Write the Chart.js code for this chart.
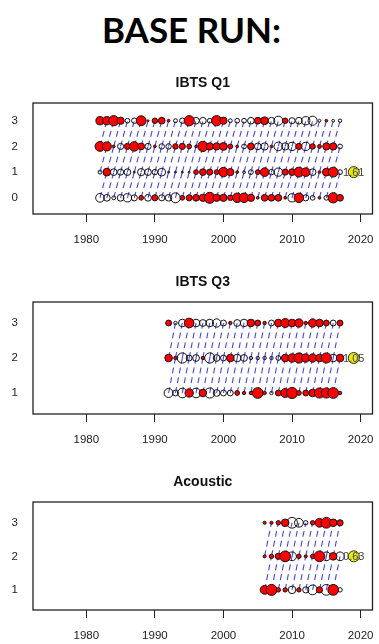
<!DOCTYPE html>
<html>
<head>
<meta charset="utf-8">
<script src="https://cdn.jsdelivr.net/npm/chart.js@4/dist/chart.umd.min.js"></script>
<style>
  html, body { margin: 0; padding: 0; background: #fff; }
  body { width: 379px; height: 644px; position: relative; overflow: hidden; }
  #heading {
    position: absolute; left: 2px; top: 12px; width: 379px;
    text-align: center; font-family: Lato, "Liberation Sans", sans-serif;
    font-weight: bold; font-size: 35px; line-height: 35px; color: #000;
  }
  canvas { position: absolute; left: 0; }
</style>
</head>
<body>
<div id="heading">BASE RUN:</div>
<canvas id="q1" width="379" height="190" style="top:66px"></canvas>
<canvas id="q3" width="379" height="190" style="top:266px"></canvas>
<canvas id="ac" width="379" height="179" style="top:465px"></canvas>
<script>
// Survey index residuals by year and age (red = positive, open = negative)
const xTicks = [1980, 1990, 2000, 2010, 2020];

// IBTS Q1, ages 0-3
const q1Years = [1982,1983,1984,1985,1986,1987,1988,1989,1990,1991,1992,1993,1994,1995,1996,1997,1998,1999,
                 2000,2001,2002,2003,2004,2005,2006,2007,2008,2009,2010,2011,2012,2013,2014,2015,2016,2017];
const q1Ages = [0, 1, 2, 3];
const q1Age0 = [-1.0,-0.6,-0.2,-0.6,-0.9,-0.5,0.3,-0.6,0.5,-0.5,-0.6,-1.3,0.3,0.5,0.6,0.7,1.61,0.7,
                0.7,0.4,1.2,1.2,0.7,0.1,0.6,0.6,0.6,0.1,-0.9,1.2,-0.5,-0.3,0.1,-0.3,1.4,0.6];
const q1Age1 = [-0.2,0.8,-0.6,-0.5,-0.6,0.05,-0.7,-0.6,-0.4,-0.8,0.05,0.05,0.05,-0.05,0.3,0.6,0.5,0.3,
                1.2,0.7,0.1,-0.1,-0.3,0.3,1.0,-0.4,-0.9,0.5,0.6,1.3,1.0,-0.6,0.1,0.8,1.3,-0.3];
const q1Age2 = [1.3,1.1,0.1,-0.5,0.5,1.2,0.6,-0.5,0.1,-0.4,-0.4,0.4,0.5,0.3,0.1,1.4,0.7,0.7,
                0.8,0.3,0.1,-0.3,0.6,-0.6,-0.7,0.1,-1.0,-0.7,-0.9,0.5,-0.9,0.4,0.2,0.7,0.7,-0.3];
const q1Age3 = [0.9,0.9,1.4,0.7,-0.3,-0.4,1.3,0.05,0.4,0.6,0.1,-0.2,-0.4,1.4,-0.6,-0.6,-0.3,1.4,
                0.7,-0.2,-0.3,-0.3,-0.6,0.6,0.8,-0.6,-1.1,0.4,-0.5,-0.6,-0.9,-1.1,-0.1,0.1,-0.1,-0.15];

// IBTS Q3, ages 1-3
const q3Years = [1992,1993,1994,1995,1996,1997,1998,1999,2000,2001,2002,2003,2004,
                 2005,2006,2007,2008,2009,2010,2011,2012,2013,2014,2015,2016,2017];
const q3Ages = [1, 2, 3];
const q3Age1 = [-0.7,-0.3,-0.8,0.6,-0.8,0.5,-0.9,-0.4,-0.3,-0.3,0.2,0.1,0.1,
                1.0,0.1,-0.1,0.3,0.7,1.05,0.2,0.3,0.5,0.9,0.9,1.0,0.1];
const q3Age2 = [0.5,0.1,-0.9,-0.3,-0.4,0.1,-0.9,-0.4,-0.3,0.5,-0.5,-0.4,-0.1,
                -0.1,-0.1,-0.1,-0.2,0.5,0.6,0.9,0.6,0.6,0.5,0.9,-0.5,0.5];
const q3Age3 = [0.3,-0.1,-0.5,0.8,-0.5,-0.4,-0.5,-0.6,-0.3,0.1,-0.4,-0.5,0.5,
                0.3,0.1,-0.3,0.5,0.7,0.5,0.6,0.1,0.6,0.5,0.3,-0.3,0.3];

// Acoustic survey, ages 1-3
const acYears = [2006,2007,2008,2009,2010,2011,2012,2013,2014,2015,2016,2017];
const acAges = [1, 2, 3];
const acAge1 = [0.4,0.63,0.1,0.1,-0.3,0.1,-0.2,-0.5,0.2,-0.6,0.6,-0.1];
const acAge2 = [0.05,0.1,0.2,0.6,-0.4,0.1,0.05,0.1,0.6,-0.4,0.3,-0.4];
const acAge3 = [0.05,0.05,0.1,0.3,-0.6,-0.4,-0.1,0.1,0.4,0.6,0.3,0.2];

// Where the size key sits: year and age row
const q1KeyAt = [2019, 1];
const q3KeyAt = [2019, 2];
const acKeyAt = [2019, 2];

const FONT = '"Liberation Sans", Arial, sans-serif';
const R_MAX = 5.5;

// Panel title centred over the plot box, plot frame and size-key label
const framePlugin = {
  id: 'frame',
  afterDatasetsDraw(chart, args, opts) {
    const { ctx, chartArea: a } = chart;
    ctx.save();
    ctx.strokeStyle = '#222';
    ctx.lineWidth = 1.3;
    ctx.strokeRect(a.left, a.top, a.right - a.left, a.bottom - a.top);

    ctx.font = 'bold 14px ' + FONT;
    ctx.fillStyle = '#111';
    ctx.textAlign = 'center';
    ctx.textBaseline = 'middle';
    ctx.fillText(opts.title, (a.left + a.right) / 2, a.top - opts.titleGap);

    const el = chart.getDatasetMeta(opts.keyIndex).data[0];
    if (el) {
      ctx.font = '11px ' + FONT;
      ctx.fillStyle = '#444';
      ctx.fillText(opts.keyText, el.x, el.y + 0.5);
    }
    ctx.restore();
  }
};

function buildPanel(canvasId, title, years, ages, rows, keyAt, yMin, yMax, topPad, axisH) {
  const maxAbs = Math.max(...rows.flat().map(Math.abs));
  const keyValue = Math.round(maxAbs * 100) / 100;
  const radius = v => R_MAX * Math.sqrt(Math.abs(v) / keyValue);

  const pos = [], neg = [];
  rows.forEach((vals, k) => vals.forEach((v, i) => {
    const pt = { x: years[i], y: ages[k], r: radius(v) };
    (v >= 0 ? pos : neg).push(pt);
  }));

  // cohort links: (year, age) -> (year + 1, age + 1), each its own dashed piece
  const cohort = [];
  for (let i = 0; i < years.length - 1; i++) {
    for (let k = 0; k < ages.length - 1; k++) {
      cohort.push({ x: years[i], y: ages[k] }, { x: years[i + 1], y: ages[k + 1] }, { x: years[i + 1], y: null });
    }
  }

  return new Chart(document.getElementById(canvasId), {
    type: 'bubble',
    data: {
      datasets: [
        { type: 'line', data: cohort, borderColor: '#4444ee', borderWidth: 1.1, borderDash: [6, 4],
          pointRadius: 0, spanGaps: false, fill: false, order: 3 },
        { data: neg, backgroundColor: 'rgba(255,255,255,0)', borderColor: '#111', borderWidth: 1, order: 2 },
        { data: pos, backgroundColor: '#ff0000', borderColor: '#111', borderWidth: 1, order: 1 },
        { data: [{ x: keyAt[0], y: keyAt[1], r: radius(keyValue) }], backgroundColor: '#e9e90f',
          borderColor: '#333', borderWidth: 1, order: 0 }
      ]
    },
    options: {
      responsive: false, animation: false, devicePixelRatio: 1,
      layout: { padding: { top: topPad, right: 1, bottom: 0, left: 0 } },
      plugins: {
        legend: { display: false },
        tooltip: { enabled: false },
        title: { display: false },
        frame: { keyIndex: 3, keyText: keyValue.toFixed(2), title: title, titleGap: 19.5 }
      },
      scales: {
        x: {
          type: 'linear', min: 1972.23, max: 2021.73,
          afterBuildTicks: s => { s.ticks = xTicks.map(v => ({ value: v })); },
          ticks: { color: '#222', font: { family: FONT, size: 11.5 }, padding: 11, maxRotation: 0,
                   autoSkip: false, callback: v => String(v) },
          grid: { drawOnChartArea: false, tickLength: 8, color: '#222', lineWidth: 1 },
          border: { display: false },
          afterFit: s => { s.height = axisH; s.paddingLeft = 0; s.paddingRight = 0; }
        },
        y: {
          type: 'linear', min: yMin, max: yMax,
          afterBuildTicks: s => { s.ticks = ages.map(v => ({ value: v })); },
          ticks: { color: '#222', font: { family: FONT, size: 11.5 }, padding: 15 },
          grid: { display: false, drawTicks: false },
          border: { display: false },
          afterFit: s => { s.width = 33; s.paddingTop = 0; s.paddingBottom = 0; }
        }
      }
    },
    plugins: [framePlugin]
  });
}

buildPanel('q1', 'IBTS Q1', q1Years, q1Ages, [q1Age0, q1Age1, q1Age2, q1Age3], q1KeyAt, -0.63, 3.69, 37, 42);
buildPanel('q3', 'IBTS Q3', q3Years, q3Ages, [q3Age1, q3Age2, q3Age3], q3KeyAt, 0.4, 3.6, 36, 42);
buildPanel('ac', 'Acoustic', acYears, acAges, [acAge1, acAge2, acAge3], acKeyAt, 0.4, 3.62, 37, 34);
</script>
</body>
</html>
